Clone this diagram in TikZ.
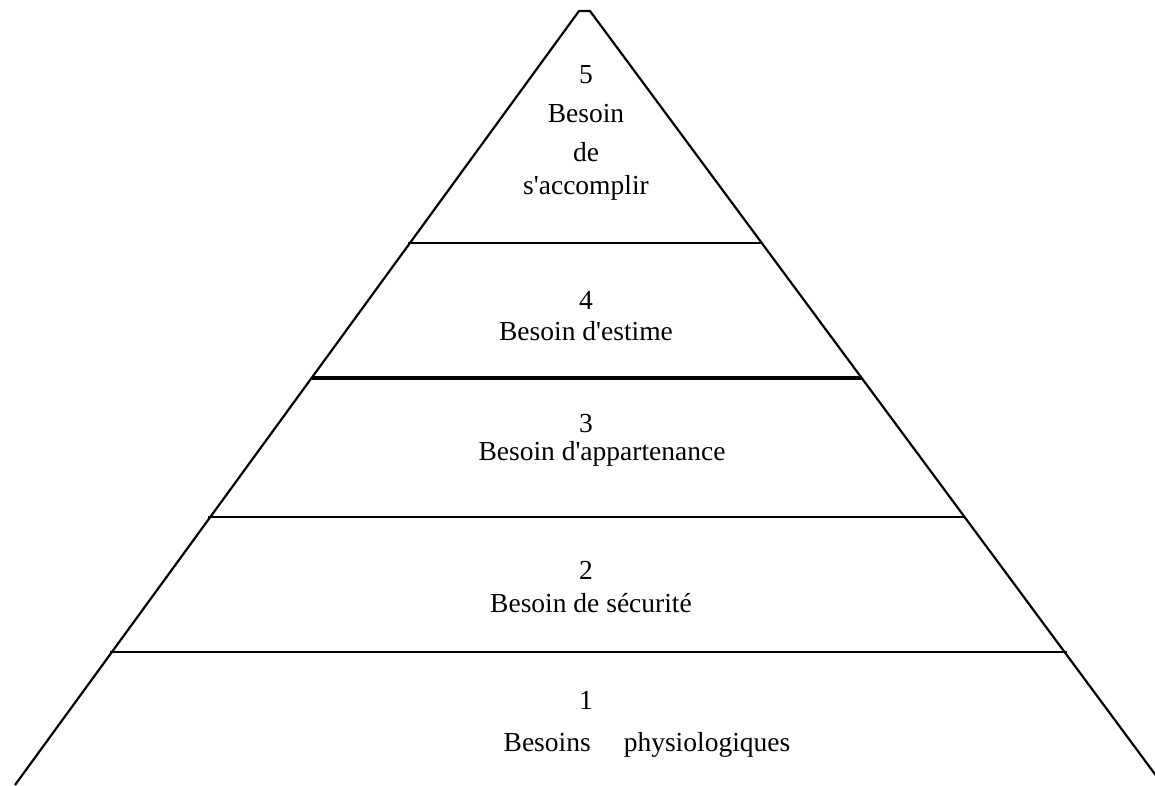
\documentclass[tikz,border=0pt]{standalone}
\usepackage{fontspec}
\setmainfont{Liberation Serif}
\usetikzlibrary{calc}
\begin{document}
\begin{tikzpicture}[x=1pt,y=-1pt,
  edge/.style={line width=2.2pt,line cap=butt},
  tier/.style={line width=2.4pt},
  thicktier/.style={line width=3.4pt},
  lbl/.style={inner sep=0pt,font=\fontsize{27.5}{32}\selectfont}]
\useasboundingbox (0,0) rectangle (1155,785);
\clip (0,0) rectangle (1155,785);
% pyramid corners
\coordinate (TL) at (579,11);
\coordinate (TR) at (590,11);
\coordinate (BL) at (15,785);
\coordinate (BR) at (1163,785);
\draw[edge] (BL) -- (TL) -- (TR) -- (BR);
% tier boundaries
\coordinate (L4) at ($(TL)!0.2997!(BL)$);
\coordinate (R4) at ($(TR)!0.2997!(BR)$);
\coordinate (L3) at ($(TL)!0.4742!(BL)$);
\coordinate (R3) at ($(TR)!0.4742!(BR)$);
\coordinate (L2) at ($(TL)!0.6537!(BL)$);
\coordinate (R2) at ($(TR)!0.6537!(BR)$);
\coordinate (L1) at ($(TL)!0.8282!(BL)$);
\coordinate (R1) at ($(TR)!0.8282!(BR)$);
\draw[tier] ($(L4)+(-2,0)$) -- (R4);
\draw[thicktier] (L3) -- (R3);
\draw[tier] ($(L2)+(-2,0)$) -- (R2);
\draw[tier] ($(L1)+(-2,0)$) -- ($(R1)+(2,0)$);
% labels
\node[lbl] (n5) at (586,75) {5};
\node[lbl] (t5a) at (586,114) {Besoin};
\node[lbl] (t5b) at (586,152) {de};
\node[lbl] (t5c) at (586,188) {s\textquotesingle accomplir};
\node[lbl] (n4) at (586,300) {4};
\node[lbl] (t4) at (586,331) {Besoin d\textquotesingle estime};
\node[lbl] (n3) at (586,424) {3};
\node[lbl] (t3) at (602,454) {Besoin d\textquotesingle appartenance};
\node[lbl] (n2) at (586,570) {2};
\node[lbl] (t2) at (591,603) {Besoin de sécurité};
\node[lbl] (n1) at (586,700) {1};
\node[lbl] (t1) at (647,745) {Besoins\hspace{33pt}physiologiques};
\end{tikzpicture}
\end{document}
